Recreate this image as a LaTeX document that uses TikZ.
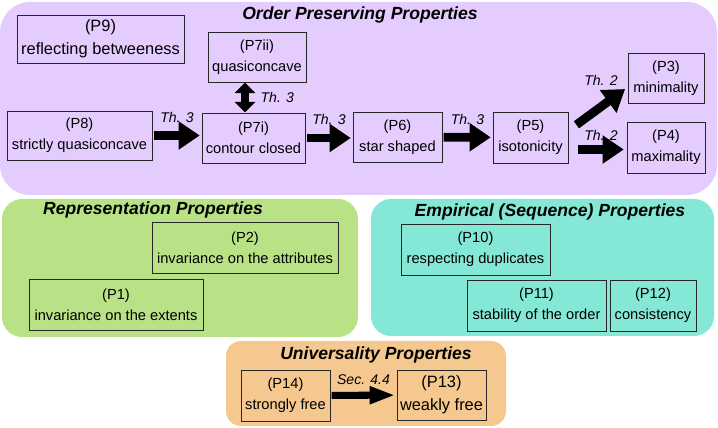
\documentclass[tikz,border=0pt]{standalone}
\usepackage{fontspec}
\setmainfont{Liberation Sans}
\usetikzlibrary{arrows.meta}
\definecolor{orderbg}{RGB}{229,204,255}
\definecolor{reprbg}{RGB}{185,225,134}
\definecolor{empbg}{RGB}{133,231,213}
\definecolor{univbg}{RGB}{244,200,142}

\begin{document}
\begin{tikzpicture}[x=0.03cm, y=-0.03cm,
  prop/.style={draw=black!85, line width=0.8pt, align=center, inner sep=1pt, font=\fontsize{12.5}{18}\selectfont},
  bigprop/.style={prop, font=\fontsize{14}{19.5}\selectfont},
  title/.style={font=\fontsize{15}{18}\selectfont\bfseries\itshape},
  th/.style={font=\fontsize{12}{14}\selectfont\itshape},
  implies/.style={line width=7.5pt, -{Triangle[length=18pt,width=23pt]}, shorten <=1pt, shorten >=1.5pt},
  equiv/.style={line width=6pt, {Triangle[length=9pt,width=17pt]}-{Triangle[length=9pt,width=17pt]}},
  sec/.style={line width=6pt, -{Triangle[length=22pt,width=14pt]}, shorten <=1pt, shorten >=1pt}]
  \useasboundingbox (0,0) rectangle (718,428);
  % groups
  \fill[orderbg, rounded corners=0.9cm] (0,2) rectangle (717,195);
  \fill[reprbg, rounded corners=0.6cm] (2,199) rectangle (358,337);
  \fill[empbg, rounded corners=0.6cm] (371,199) rectangle (714,336);
  \fill[univbg, rounded corners=0.45cm] (226,341) rectangle (506,426);
  \node[title] (optitle) at (360,15) {Order Preserving Properties};
  \node[title] (reptitle) at (153,210) {Representation Properties};
  \node[title] (emptitle) at (550,212) {Empirical (Sequence) Properties};
  \node[title] (unititle) at (376,355) {Universality Properties};
  % order preserving
  \node[bigprop, minimum width=5.01cm, minimum height=1.44cm] (p9) at (100.5,39) {(P9)\\reflecting betweeness};
  \node[prop, minimum width=2.94cm, minimum height=1.5cm] (p7ii) at (257,57) {(P7ii)\\quasiconcave};
  \node[prop, minimum width=4.35cm, minimum height=1.47cm] (p8) at (79.5,135.5) {(P8)\\strictly quasiconcave};
  \node[prop, minimum width=3.09cm, minimum height=1.5cm] (p7i) at (253.5,138) {(P7i)\\contour closed};
  \node[prop, minimum width=2.67cm, minimum height=1.5cm] (p6) at (397.5,137) {(P6)\\star shaped};
  \node[prop, minimum width=2.25cm, minimum height=1.53cm] (p5) at (530.5,137.5) {(P5)\\isotonicity};
  \node[prop, minimum width=2.28cm, minimum height=1.5cm] (p3) at (666,78) {(P3)\\minimality};
  \node[prop, minimum width=2.34cm, minimum height=1.53cm] (p4) at (666,147.5) {(P4)\\maximality};
  \coordinate (dbl) at (245,0);
  \draw[implies] (p8.east) -- node[th, above=4pt] {Th. 3} (p8.east -| p7i.west);
  \draw[implies] (p7i.east) -- node[th, above=4pt] {Th. 3} (p7i.east -| p6.west);
  \draw[implies] (p6) -- node[th, above=4pt] {Th. 3} (p5);
  \draw[equiv] (p7ii.south -| dbl) -- node[th, right=7pt] {Th. 3} (p7i.north -| dbl);
  \draw[implies] ([shift={(7,-12)}]p5.east) -- node[th, above=11pt] {Th. 2} ([shift={(-1,10)}]p3.west);
  \draw[implies] ([shift={(8,12)}]p5.east) -- node[th, above=1pt] {Th. 2} ([shift={(-1,2)}]p4.west);
  % representation
  \node[prop, minimum width=5.58cm, minimum height=1.53cm] (p2) at (245,247.5) {(P2)\\invariance on the attributes};
  \node[prop, minimum width=5.22cm, minimum height=1.53cm] (p1) at (116,304.5) {(P1)\\invariance on the extents};
  % empirical
  \node[prop, minimum width=4.47cm, minimum height=1.53cm] (p10) at (475.5,249.5) {(P10)\\respecting duplicates};
  \node[prop, minimum width=4.17cm, minimum height=1.53cm] (p11) at (536.5,305.5) {(P11)\\stability of the order};
  \node[prop, minimum width=2.58cm, minimum height=1.53cm] (p12) at (653,305.5) {(P12)\\consistency};
  % universality
  \node[prop, minimum width=2.67cm, minimum height=1.53cm] (p14) at (285.5,395.5) {(P14)\\strongly free};
  \node[bigprop, minimum width=2.67cm, minimum height=1.5cm] (p13) at (441.5,395) {(P13)\\weakly free};
  \draw[sec] (p14) -- node[th, above=3pt] {Sec. 4.4} (p13);
\end{tikzpicture}
\end{document}
